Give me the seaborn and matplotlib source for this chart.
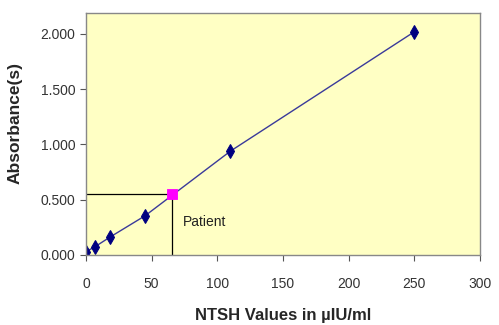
import matplotlib
matplotlib.use("Agg")
import matplotlib.pyplot as plt
import seaborn as sns
import pandas as pd
from matplotlib.ticker import FormatStrFormatter

sns.set_theme(style="white")
plt.rcParams['font.family'] = ['Liberation Sans', 'DejaVu Sans']

conc = [0, 6.9, 18, 45, 110, 250]
absorb = [0.03, 0.075, 0.16, 0.355, 0.94, 2.02]
patient_x = [65.5]
patient_y = [0.55]

df = pd.DataFrame({"conc": conc, "abs": absorb})

fig = plt.figure(figsize=(4.99, 3.25), dpi=100)
ax = fig.add_axes([0.1723, 0.2154, 0.7896, 0.7446])
ax.set_facecolor("#FFFFC4")

sns.lineplot(data=df, x="conc", y="abs", ax=ax, color="#3A3A9A", linewidth=1.0,
             marker="d", markersize=7.5, markerfacecolor="#000080", markeredgecolor="#000080")

ax.plot([0, patient_x[0]], [patient_y[0], patient_y[0]], color="black", linewidth=0.9)
ax.plot([patient_x[0], patient_x[0]], [0, patient_y[0]], color="black", linewidth=0.9)
sns.scatterplot(x=patient_x, y=patient_y, ax=ax, marker="s", s=60, color="#FF00FF",
                edgecolor="#FF00FF", zorder=5)
ax.text(74, 0.30, "Patient", fontsize=10, color="#222222", va="center", ha="left")

ax.set_xlim(0, 300)
ax.set_ylim(0, 2.19)
ax.set_xticks([0, 50, 100, 150, 200, 250, 300])
ax.set_yticks([0, 0.5, 1.0, 1.5, 2.0])
ax.yaxis.set_major_formatter(FormatStrFormatter("%.3f"))
ax.tick_params(axis="both", direction="out", length=4, width=0.8, color="#555555",
               labelsize=10, labelcolor="#333333", bottom=True, left=True)
ax.tick_params(axis="x", pad=12)
for s in ax.spines.values():
    s.set_color("#888888")
    s.set_linewidth(1.0)

ax.set_xlabel("NTSH Values in µIU/ml", fontsize=12, fontweight="bold", labelpad=12)
ax.set_ylabel("Absorbance(s)", fontsize=12.5, fontweight="bold")
ax.yaxis.set_label_coords(-0.162, 0.545)

fig.savefig("out.png", dpi=100)
